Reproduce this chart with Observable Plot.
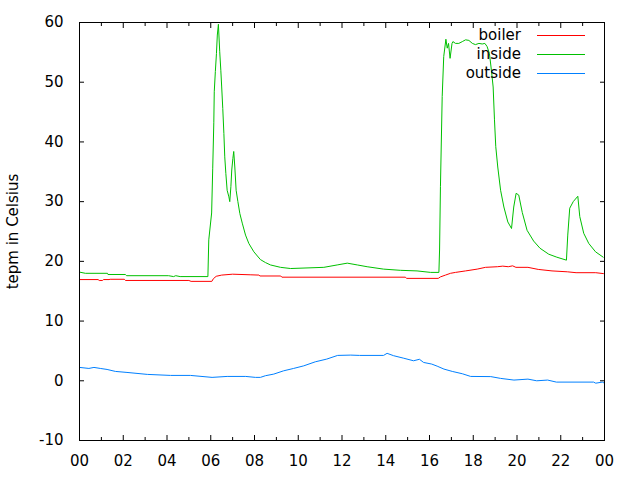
<!DOCTYPE html>
<html><head><meta charset="utf-8">
<script src="https://cdn.jsdelivr.net/npm/d3@7"></script>
<script src="https://cdn.jsdelivr.net/npm/@observablehq/plot@0.6"></script>
<style>
html,body{margin:0;padding:0;background:#fff;}
#chart{position:relative;width:640px;height:480px;font-family:"DejaVu Sans",sans-serif;color:#000;}
.lg-text{position:absolute;font-size:15px;line-height:20px;height:20px;white-space:nowrap;text-align:right;}
.lg-line{position:absolute;height:1px;}
</style>
</head><body>
<div id="chart"></div>
<script>
// ---- data (hours of day, temperature in °C) ----
const seriesNames = ["boiler", "inside", "outside"];
const seriesColors = ["#ff0000", "#00c000", "#0080ff"];

const boilerHours = [0.0,0.85,0.9,1.05,1.1,1.35,1.4,2.05,2.1,5.0,5.1,6.05,6.12,6.25,6.5,7.0,7.8,8.2,8.25,9.2,9.25,14.9,14.95,16.4,16.5,16.73,16.96,17.19,17.65,18.18,18.56,19.1,19.35,19.6,19.8,19.95,20.5,20.97,21.6,22.3,22.7,23.6,23.95];
const boilerTemps = [16.95,16.95,16.8,16.8,16.95,16.95,17.0,17.0,16.8,16.8,16.65,16.65,17.1,17.5,17.7,17.85,17.75,17.7,17.55,17.55,17.35,17.35,17.15,17.15,17.4,17.7,18.0,18.15,18.4,18.7,19.0,19.1,19.2,19.1,19.25,19.0,19.0,18.65,18.4,18.25,18.1,18.1,17.95];

const insideHours = [0.0,0.27,1.28,1.3,2.1,2.15,4.07,4.3,4.4,4.6,5.87,5.91,6.04,6.09,6.14,6.16,6.21,6.26,6.3,6.35,6.41,6.46,6.5,6.55,6.6,6.64,6.69,6.75,6.83,6.87,6.92,6.96,7.01,7.05,7.1,7.16,7.24,7.33,7.44,7.59,7.74,7.97,8.27,8.5,8.73,9.19,9.65,11.17,11.78,12.24,12.7,13.15,13.9,14.67,15.43,16.05,16.43,16.46,16.5,16.58,16.65,16.75,16.81,16.87,16.94,17.03,17.07,17.19,17.34,17.5,17.65,17.8,17.96,18.1,18.26,18.41,18.53,18.63,18.74,18.83,18.91,18.97,19.03,19.12,19.25,19.4,19.58,19.75,19.85,19.96,20.08,20.24,20.46,20.76,21.05,21.45,21.82,22.26,22.32,22.41,22.57,22.78,22.87,23.05,23.28,23.59,23.94];
const insideTemps = [18.2,18.0,18.0,17.8,17.8,17.6,17.6,17.45,17.6,17.45,17.45,23.6,28.1,35.6,43.2,48.4,51.8,54.8,57.9,59.7,55.1,52.0,49.2,45.6,41.4,37.5,34.7,31.9,30.8,30.0,32.5,35.3,37.2,38.4,35.8,31.9,30.0,28.0,26.4,24.4,23.0,21.6,20.3,19.8,19.4,19.0,18.8,19.0,19.4,19.7,19.4,19.1,18.7,18.5,18.4,18.15,18.15,21.9,32.5,47.6,54.3,57.2,55.7,56.5,54.0,56.5,56.8,56.5,56.5,56.8,57.1,57.0,56.5,56.3,56.5,56.4,56.5,56.0,54.8,52.0,49.2,43.7,39.2,35.8,31.9,29.1,26.6,25.5,29.1,31.4,31.1,28.2,25.2,23.4,22.2,21.2,20.7,20.2,24.4,28.9,30.0,30.9,27.5,24.7,23.0,21.6,20.7];

const outsideHours = [0.0,0.43,0.66,0.95,1.26,1.64,2.17,3.1,4.16,5.07,6.06,6.75,7.6,8.04,8.27,8.5,8.88,9.33,9.79,10.25,10.78,11.3,11.8,12.4,12.8,13.9,14.06,14.36,14.8,15.27,15.54,15.73,16.1,16.35,16.66,17.04,17.5,17.88,18.8,19.25,19.86,20.5,20.9,21.4,21.8,23.5,23.6,23.9,24.0];
const outsideTemps = [2.24,2.07,2.24,2.07,1.9,1.57,1.4,1.07,0.9,0.9,0.57,0.73,0.73,0.57,0.57,0.85,1.12,1.67,2.07,2.5,3.18,3.63,4.25,4.3,4.25,4.25,4.6,4.2,3.8,3.35,3.6,3.07,2.8,2.45,1.96,1.57,1.18,0.73,0.7,0.4,0.12,0.28,0.0,0.12,-0.22,-0.22,-0.4,-0.22,-0.4];

const xTicks = [0,2,4,6,8,10,12,14,16,18,20,22,24];
const xTickLabels = ["00","02","04","06","08","10","12","14","16","18","20","22","00"];
const xMinorTicks = [1,3,5,7,9,11,13,15,17,19,21,23];
const yTicks = [-10,0,10,20,30,40,50,60];
const yTickLabels = ["-10","0","10","20","30","40","50","60"];
const yLabel = "tepm in Celsius";

// ---- build table ----
const rows = [];
const add = (name, hs, vs) => hs.forEach((h, i) => rows.push({series: name, h, v: vs[i]}));
add("boiler", boilerHours, boilerTemps);
add("inside", insideHours, insideTemps);
add("outside", outsideHours, outsideTemps);

const fmtX = d => xTickLabels[xTicks.indexOf(d)];
const fmtY = d => yTickLabels[yTicks.indexOf(d)];

const plot = Plot.plot({
  width: 640, height: 480,
  marginLeft: 79, marginRight: 36, marginTop: 22, marginBottom: 40,
  style: {fontFamily: "DejaVu Sans, sans-serif", fontSize: "15px", color: "#000", background: "#fff", overflow: "visible"},
  x: {domain: [0, 24]},
  y: {domain: [-10, 60]},
  color: {domain: seriesNames, range: seriesColors},
  marks: [
    Plot.axisX(xTicks, {anchor: "bottom", tickSize: -5, tickPadding: 20, tickFormat: fmtX, label: null, fontSize: 15}),
    Plot.axisX(xMinorTicks, {anchor: "bottom", tickSize: -3, tickFormat: () => "", label: null}),
    Plot.axisX(xTicks, {anchor: "top", tickSize: -5, tickFormat: () => "", label: null}),
    Plot.axisX(xMinorTicks, {anchor: "top", tickSize: -3, tickFormat: () => "", label: null}),
    Plot.axisY(yTicks, {anchor: "left", tickSize: -5, tickPadding: 21, tickFormat: fmtY, label: null, fontSize: 15}),
    Plot.axisY(yTicks, {anchor: "right", tickSize: -5, tickFormat: () => "", label: null}),
    Plot.line(rows, {x: "h", y: "v", z: "series", stroke: "series", strokeWidth: 1}),
    Plot.frame({stroke: "#000", strokeWidth: 1}),
    Plot.text([yLabel], {frameAnchor: "left", textAnchor: "middle", lineAnchor: "middle", rotate: -90, dx: -66, fontSize: 15, fill: "#000"})
  ]
});

const chart = document.getElementById("chart");
chart.appendChild(plot);

// legend (top-right, gnuplot style)
seriesNames.forEach((name, i) => {
  const cy = 35 + 19 * i;
  const t = document.createElement("div");
  t.className = "lg-text";
  t.textContent = name;
  t.style.right = (640 - 521) + "px";
  t.style.top = (cy - 10) + "px";
  chart.appendChild(t);
  const l = document.createElement("div");
  l.className = "lg-line";
  l.style.left = "537px";
  l.style.width = "48px";
  l.style.top = cy + "px";
  l.style.background = seriesColors[i];
  chart.appendChild(l);
});
</script>
</body></html>
